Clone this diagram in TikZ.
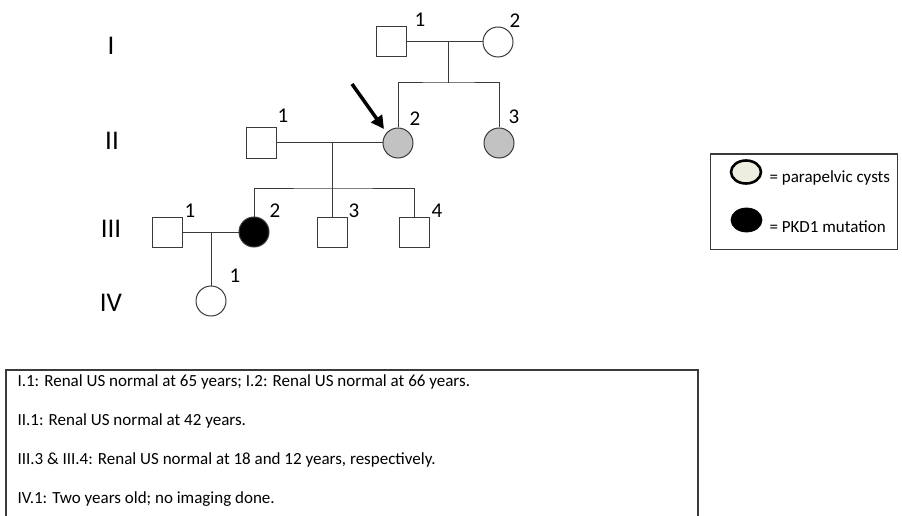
\documentclass[tikz,border=0pt]{standalone}
\usepackage{fontspec}
\setmainfont{Carlito}
\usetikzlibrary{arrows.meta,shapes.geometric}
\definecolor{affgrey}{HTML}{C2C2C2}
\definecolor{cystfill}{HTML}{EDEDE0}
\definecolor{linegrey}{HTML}{3A3A3A}
\begin{document}
\begin{tikzpicture}[x=1pt,y=-1pt,
  male/.style={draw=linegrey, line width=1pt, rectangle, minimum size=30pt, inner sep=0pt},
  female/.style={draw=linegrey, line width=1pt, circle, minimum size=30pt, inner sep=0pt},
  rel/.style={draw=linegrey, line width=1pt},
  gen/.style={font=\fontsize{27}{30}\selectfont},
  num/.style={font=\fontsize{21}{23}\selectfont},
  note/.style={font=\fontsize{17}{19}\selectfont, anchor=west},
  leg/.style={font=\fontsize{17}{19}\selectfont, anchor=west}]
\useasboundingbox (0,0) rectangle (902,516);
% generation labels
\node[gen] (gI) at (111,46) {I};
\node[gen] (gII) at (112,141) {II};
\node[gen] (gIII) at (111,229) {III};
\node[gen] (gIV) at (111,303) {IV};
% generation I
\node[male] (I1) at (391,42) {};
\node[female] (I2) at (498,42) {};
\node[num] (lI1) at (420,20) {1};
\node[num] (lI2) at (515,21) {2};
\coordinate (mI) at (448,42);
\coordinate (sI) at (448,83);
\draw[rel] (I1) -- (I2);
\draw[rel] (mI) -- (sI);
% generation II
\node[male] (II1) at (261,143) {};
\node[female, fill=affgrey] (II2) at (398,143) {};
\node[female, fill=affgrey] (II3) at (499,143) {};
\node[num] (lII1) at (283,116) {1};
\node[num] (lII2) at (415,119) {2};
\node[num] (lII3) at (514,117) {3};
\draw[rel] (II2.north) |- (sI) -| (II3.north);
\draw[rel] (II1) -- (II2);
\coordinate (mII) at (332,143);
\coordinate (sII) at (332,188);
\draw[rel] (mII) -- (sII);
% proband arrow
\coordinate (pa) at (352,84);
\coordinate (pb) at (384,129);
\draw[line width=3.5pt, -{Triangle[length=13pt,width=13pt]}] (pa) -- (pb);
% generation III
\node[male] (III1) at (167,232) {};
\node[female, fill=black] (III2) at (254,232) {};
\node[male] (III3) at (332,232) {};
\node[male] (III4) at (414,232) {};
\node[num] (lIII1) at (190,211) {1};
\node[num] (lIII2) at (275,211) {2};
\node[num] (lIII3) at (354,211) {3};
\node[num] (lIII4) at (437,211) {4};
\draw[rel] (III2.north) |- (sII) -| (III4.north);
\draw[rel] (sII) -- (III3.north);
\draw[rel] (III1) -- (III2);
\coordinate (mIII) at (211,232);
% generation IV
\node[female] (IV1) at (211,301) {};
\node[num] (lIV1) at (235,276) {1};
\draw[rel] (mIII) -- (IV1.north);
% legend
\node[draw=linegrey, line width=1pt, minimum width=187pt, minimum height=95pt, inner sep=0pt] (legbox) at (803.5,201.5) {};
\node[draw, line width=2.6pt, ellipse, fill=cystfill, minimum width=30pt, minimum height=23pt, inner sep=0pt] (lcyst) at (746,172) {};
\node[draw, line width=0.8pt, ellipse, fill=black, minimum width=31pt, minimum height=24pt, inner sep=0pt] (lpkd) at (746.5,220) {};
\node[leg] (tcyst) at (766,178) {= parapelvic cysts};
\node[leg] (tpkd) at (766,227) {= PKD1 mutation};
% notes box
\coordinate (nb1) at (6,520);
\coordinate (nb2) at (6,370);
\coordinate (nb3) at (698,370);
\coordinate (nb4) at (698,520);
\draw[rel, line width=1.2pt] (nb1) -- (nb2) -- (nb3) -- (nb4);
\node[note] (n1) at (14,382) {I.1: Renal US normal at 65 years; I.2: Renal US normal at 66 years.};
\node[note] (n2) at (14,421) {II.1: Renal US normal at 42 years.};
\node[note] (n3) at (14,460) {III.3 \& III.4: Renal US normal at 18 and 12 years, respectively.};
\node[note] (n4) at (14,499) {IV.1: Two years old; no imaging done.};
\end{tikzpicture}
\end{document}
